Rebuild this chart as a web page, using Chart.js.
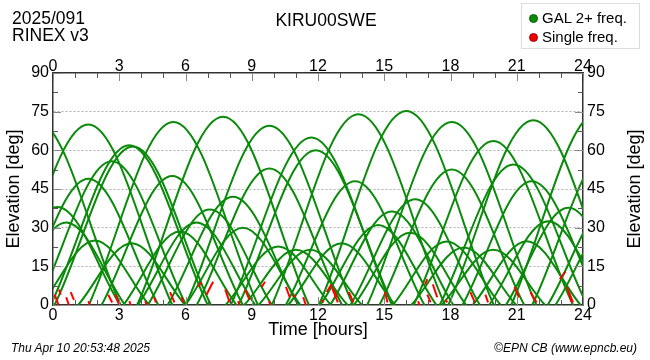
<!DOCTYPE html>
<html><head><meta charset="utf-8">
<script src="https://cdn.jsdelivr.net/npm/chart.js@4"></script>
<style>
html,body{margin:0;padding:0;background:#fff;}
#wrap{position:relative;width:650px;height:360px;font-family:"Liberation Sans",Arial,sans-serif;color:#000;overflow:hidden;}
canvas{position:absolute;left:0;top:0;}
.t{position:absolute;white-space:nowrap;line-height:1;}
.dot{position:absolute;width:9px;height:9px;border-radius:50%;box-sizing:border-box;}
</style></head><body>
<div id="wrap">
<canvas id="c" width="650" height="360"></canvas>
<div class="t" style="left:12px;top:10px;font-size:17.5px">2025/091</div>
<div class="t" style="left:12px;top:27px;font-size:17.5px">RINEX v3</div>
<div class="t" style="left:226px;width:200px;text-align:center;top:12px;font-size:17.5px">KIRU00SWE</div>
<div style="position:absolute;left:521px;top:3px;width:119px;height:46px;border:1px solid #dcdcdc;box-sizing:border-box;background:#fff"></div>
<div class="dot" style="left:529px;top:14px;background:#0b8a0b;border:1px solid #066006"></div>
<div class="t" style="left:542px;top:10px;font-size:15px">GAL 2+ freq.</div>
<div class="dot" style="left:529px;top:33px;background:#f00000;border:1px solid #a00000"></div>
<div class="t" style="left:542px;top:29px;font-size:15px">Single freq.</div>
<div class="t" style="left:11px;top:342px;font-size:12px;font-style:italic">Thu Apr 10 20:53:48 2025</div>
<div class="t" style="right:13px;top:342px;font-size:12px;font-style:italic">©EPN CB (www.epncb.eu)</div>
<div class="t" style="left:534px;top:178px;width:200px;height:22px;line-height:22px;text-align:center;font-size:18px;transform:rotate(-90deg);transform-origin:50% 50%">Elevation [deg]</div>
</div>
<script>
// Satellite passes: start time, culmination time, culmination elevation, end time (hours / degrees)
const passStart = [-4.66,-2.2,-0.71,-1.57,-0.11,0.07,1.62,2.2,3.81,6.01,6.51,5.19,4.29,3.84,6.0,3.19,1.14,-0.55,-2.64,-2.06,7.82,8.66,9.31,8.05,8.4,9.91,10.54,12.04,14.23,14.78,13.47,12.55,12.1,13.63,10.65,15.39,16.23,16.33,17.51,17.9,18.54,17.6,19.01,19.75,20.51,20.75,21.7,22.4,22.75];
const passPeakT = [-0.8,1.6,2.66,1.6,3.45,3.62,5.45,5.4,7.7,9.8,9.8,8.15,7.1,6.5,8.6,5.75,3.56,1.9,0.2,0.6,10.2,11.0,11.65,11.7,11.9,13.83,13.68,16.0,18.06,18.06,16.4,15.34,14.73,16.17,13.07,17.83,18.6,19.94,20.85,21.75,21.68,19.94,21.45,22.43,23.34,24.7,25.2,25.3,25.5];
const passPeakE = [72,70,55.8,49,62,61.5,71,50,73,69.5,53,42,37,32,30,28.5,24,25,38,32,22.7,21.4,21.4,65,60,74,48,75.3,71,52.6,41,36.3,31,28,24,24.6,22.3,63.6,54.5,71.7,48,21.4,24.7,32.5,37.7,75,60,40,35];
const passEnd = [3.06,5.4,6.03,4.77,7.01,7.15,9.28,8.6,11.59,13.59,13.09,11.11,9.91,9.16,11.2,8.31,5.98,4.35,3.04,3.26,12.58,13.34,13.99,15.35,15.4,17.75,16.82,19.96,21.89,21.34,19.33,18.13,17.36,18.71,15.49,20.27,20.97,23.55,24.19,25.6,24.82,22.28,23.89,25.11,26.17,28.65,28.7,28.2,28.25];
// Single-frequency low-elevation pieces: from (t0,e0) to (t1,e1)
const redT0 = [0.08,0.28,0.6,0.8,1.6,2.5,2.82,3.46,4.18,4.58,5.3,5.83,6.6,6.95,7.8,8.38,8.7,9.45,9.78,10.55,10.88,11.33,12.18,12.4,12.62,12.7,13.4,15.03,16.53,16.85,16.95,17.2,17.78,18.9,19.58,20.9,21.62,22.95,23.28,23.36];
const redE0 = [4,6,3,5,1.5,4,4,1.5,1.5,3,5,3,7,4,6,1.5,6,7,1.5,7,4,3,2,5,7,6,5,5,1.5,8,4,8,2,5,4,7,5,10,7,5];
const redT1 = [0.25,0.34,0.72,0.95,1.68,2.68,3.0,3.52,4.24,4.66,5.5,5.9,6.7,7.25,8.0,8.45,8.9,9.6,9.85,10.72,10.96,11.45,12.25,12.6,12.9,12.85,13.6,15.15,16.6,16.95,17.1,17.4,17.85,19.1,19.7,21.1,21.9,23.2,23.5,23.55];
const redE1 = [0,4,0,2,0,1,0,0,0,1,1,1,9,9,1,0,2,9,0,3,3,0,1,8,1,3,1,1,0,10,1,3,1,1,1,3,1,13,1,1];
// Axis ticks
const hourTicks = [0,3,6,9,12,15,18,21,24];
const elevTicks = [0,15,30,45,60,75,90];

const GREEN = '#0a8a0a', RED = '#ff0000';
const datasets = [];
for (let i = 0; i < passStart.length; i++) {
  datasets.push({
    data: [{x: passStart[i], y: 0}, {x: passPeakT[i], y: passPeakE[i]}, {x: passEnd[i], y: 0}],
    showLine: true, borderColor: GREEN, borderWidth: 2, pointRadius: 0,
    tension: 0.35, clip: 0, order: 1
  });
}
for (let i = 0; i < redT0.length; i++) {
  datasets.push({
    data: [{x: redT0[i], y: redE0[i]}, {x: redT1[i], y: redE1[i]}],
    showLine: true, borderColor: RED, borderWidth: 2, pointRadius: 0, clip: 0, order: 0
  });
}

Chart.defaults.font.family = '"Liberation Sans", Arial, sans-serif';
Chart.defaults.font.size = 16;
Chart.defaults.color = '#000';

const fixX = s => { s.min = 0; s.max = 24; };
const tickCb = v => hourTicks.includes(v) ? String(v) : '';
const elevCb = v => elevTicks.includes(v) ? String(v) : '';

const innerTicks = {
  id: 'innerTicks',
  afterDatasetsDraw(chart) {
    const {ctx, chartArea: a, scales} = chart;
    const x = scales.x, y = scales.y;
    ctx.save();
    ctx.lineWidth = 1;
    for (let h = 0; h <= 24; h++) {
      const major = hourTicks.includes(h);
      const L = major ? 8 : 5;
      ctx.strokeStyle = major ? '#888' : '#555';
      const px = Math.round(x.getPixelForValue(h)) + 0.5;
      ctx.beginPath();
      ctx.moveTo(px, a.top); ctx.lineTo(px, a.top + L);
      ctx.moveTo(px, a.bottom); ctx.lineTo(px, a.bottom - L);
      ctx.stroke();
    }
    for (let k = 0; k <= 12; k++) {
      const e = k * 7.5;
      const major = elevTicks.includes(e);
      const L = major ? 8 : 5;
      ctx.strokeStyle = major ? '#888' : '#555';
      const py = Math.round(y.getPixelForValue(e)) + 0.5;
      ctx.beginPath();
      ctx.moveTo(a.left, py); ctx.lineTo(a.left + L, py);
      ctx.moveTo(a.right, py); ctx.lineTo(a.right - L, py);
      ctx.stroke();
    }
    ctx.restore();
  }
};

new Chart(document.getElementById('c'), {
  type: 'scatter',
  data: {datasets},
  options: {
    responsive: false, maintainAspectRatio: false, animation: false, devicePixelRatio: 1,
    layout: {padding: 0},
    elements: {line: {capBezierPoints: false}},
    plugins: {legend: {display: false}, tooltip: {enabled: false}},
    scales: {
      x: {
        type: 'linear', position: 'bottom', afterDataLimits: fixX,
        afterFit: s => { s.height = 55; },
        ticks: {stepSize: 1, autoSkip: false, maxRotation: 0, padding: 1, callback: tickCb},
        grid: {drawOnChartArea: false, drawTicks: false},
        border: {display: true, color: '#333', width: 1.5},
        title: {display: true, text: 'Time [hours]', font: {size: 18}, padding: {top: 0, bottom: 19}}
      },
      x2: {
        type: 'linear', position: 'top', afterDataLimits: fixX,
        afterFit: s => { s.height = 73; },
        ticks: {stepSize: 1, autoSkip: false, maxRotation: 0, padding: -3, callback: tickCb},
        grid: {drawOnChartArea: false, drawTicks: false},
        border: {display: true, color: '#333', width: 1.5}
      },
      y: {
        type: 'linear', position: 'left', min: 0, max: 90,
        afterFit: s => { s.width = 53; },
        ticks: {stepSize: 7.5, autoSkip: false, padding: 4, callback: elevCb},
        grid: {drawTicks: false, lineWidth: 1,
          color: c => (c.tick && elevTicks.includes(c.tick.value) && c.tick.value > 0 && c.tick.value < 90) ? '#b0b0b0' : 'rgba(0,0,0,0)'},
        border: {display: true, color: '#333', width: 1.5, dash: [2, 2]},
        title: {display: true, text: 'Elevation [deg]', font: {size: 18}, padding: {top: 3, bottom: 0}}
      },
      y2: {
        type: 'linear', position: 'right', min: 0, max: 90,
        afterFit: s => { s.width = 67; },
        ticks: {stepSize: 7.5, autoSkip: false, padding: 4, callback: elevCb},
        grid: {drawOnChartArea: false, drawTicks: false},
        border: {display: true, color: '#333', width: 1.5}
      }
    }
  },
  plugins: [innerTicks]
});
</script>
</body></html>
